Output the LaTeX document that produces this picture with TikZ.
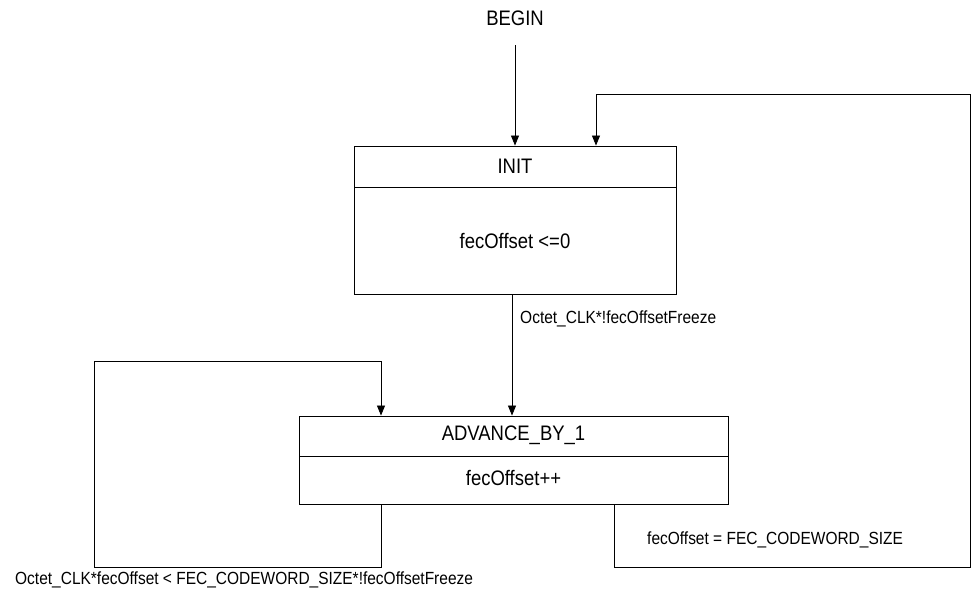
\documentclass[tikz,border=0pt]{standalone}
\usepackage{fontspec}
\setmainfont[FakeStretch=0.88]{Liberation Sans}
\usetikzlibrary{arrows.meta}
\tikzset{
  statebox/.style={draw, line width=0.9pt, inner sep=0pt},
  flow/.style={line width=0.8pt},
  arr/.style={flow, -{Triangle[width=8pt,length=10pt]}},
  bigtxt/.style={inner sep=0pt, font=\fontsize{21}{25}\selectfont},
  smalltxt/.style={inner sep=0pt, font=\fontsize{17.6}{21}\selectfont},
}
\begin{document}
\begin{tikzpicture}[x=1pt, y=-1pt]
\useasboundingbox (0,0) rectangle (974,592);

% states
\node[statebox, minimum width=322pt, minimum height=148pt] (init) at (515,220) {};
\draw[statebox] (354,187) -- (676,187);
\node[bigtxt] (initname) at (515,166) {INIT};
\node[bigtxt] (initact) at (515,241) {fecOffset <=0};

\node[statebox, minimum width=429pt, minimum height=88pt] (adv) at (513.5,460) {};
\draw[statebox] (299,456) -- (728,456);
\node[bigtxt] (advname) at (513.5,435) {ADVANCE\_BY\_1};
\node[bigtxt] (advact) at (513.5,478) {fecOffset++};

% entry
\node[bigtxt] (begin) at (515,18) {BEGIN};
\coordinate (bx) at (515,45);
\draw[arr] (bx) -- (bx |- init.north);

% INIT -> ADVANCE_BY_1
\coordinate (ix) at (512,0);
\draw[arr] (ix |- init.south) -- (ix |- adv.north);
\node[smalltxt, anchor=west] (l1) at (520,319) {Octet\_CLK*!fecOffsetFreeze};

% self loop on ADVANCE_BY_1
\coordinate (sx) at (381,0);
\coordinate (lb) at (94,567);
\coordinate (lt) at (94,361);
\draw[arr] (sx |- adv.south) -- (sx |- lb) -- (lb) -- (lt) -- (sx |- lt) -- (sx |- adv.north);
\node[smalltxt, anchor=west] (l2) at (15,580) {Octet\_CLK*fecOffset < FEC\_CODEWORD\_SIZE*!fecOffsetFreeze};

% ADVANCE_BY_1 -> INIT
\coordinate (rx) at (614,0);
\coordinate (rb) at (970,567);
\coordinate (rt) at (970,94);
\coordinate (tx) at (596,0);
\draw[arr] (rx |- adv.south) -- (rx |- rb) -- (rb) -- (rt) -- (tx |- rt) -- (tx |- init.north);
\node[smalltxt, anchor=west] (l3) at (647,540) {fecOffset = FEC\_CODEWORD\_SIZE};
\end{tikzpicture}
\end{document}
